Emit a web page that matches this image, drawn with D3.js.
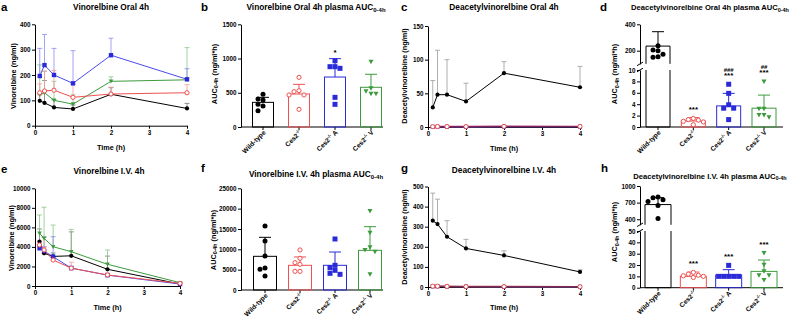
<!DOCTYPE html>
<html><head><meta charset="utf-8">
<script src="https://cdn.jsdelivr.net/npm/d3@7/dist/d3.min.js"></script>
<style>
body{margin:0;background:#fff;}
svg text{font-family:"Liberation Sans",Arial,sans-serif;font-weight:bold;fill:#000;}
</style></head><body>
<svg id="chart" width="799" height="319"></svg>
<script>
// ---------------- DATA ----------------
const timePoints = [0.125, 0.25, 0.5, 1, 2, 4];
const timeTicks = [0, 1, 2, 3, 4];
const groupLabels = ["Wild-type", "Ces2^{-/-}", "Ces2^{-/-} A", "Ces2^{-/-} V"];

// a: Vinorelbine oral (ng/ml), mean and SD
const aWT = [98, 90, 72, 66, 124, 68];
const aWTSD = [24, 88, 30, 16, 26, 20];
const aKO = [130, 137, 140, 112, 125, 130];
const aKOSD = [35, 78, 78, 53, 27, 32];
const aA = [196, 239, 200, 167, 278, 183];
const aASD = [109, 121, 105, 129, 67, 42];
const aV = [122, 130, 100, 85, 175, 181];
const aVSD = [118, 85, 75, 37, 18, 127];

// c: Deacetylvinorelbine oral
const cWT = [29, 48, 48, 38, 80, 59];
const cWTSD = [40, 66, 52, 27, 17, 31];
const cKO = [0.5, 0.6, 0.6, 0.5, 0.9, 0.8];
const cA = [0.3, 0.4, 0.4, 0.3, 0.5, 0.5];
const cV = [0.4, 0.5, 0.5, 0.4, 0.6, 0.6];

// e: Vinorelbine I.V.
const eWT = [4540, 3350, 3030, 3090, 1710, 205];
const eWTSD = [1300, 1650, 350, 2450, 1350, 80];
const eKO = [4200, 3690, 2660, 1830, 1130, 270];
const eKOSD = [400, 250, 300, 600, 200, 80];
const eA = [3860, 3580, 3000, 1830, 1110, 200];
const eASD = [350, 450, 2050, 200, 150, 60];
const eV = [5390, 4880, 4020, 3510, 2220, 340];
const eVSD = [1880, 3180, 2220, 2290, 1460, 80];

// g: Deacetylvinorelbine I.V.
const gWT = [330, 313, 250, 192, 157, 75];
const gWTSD = [137, 124, 80, 45, 23, 10];
const gKO = [4, 4, 3, 2, 2, 1];
const gA = [3, 3, 2, 2, 1, 1];
const gV = [3, 3, 2, 2, 1, 1];

// b: Vinorelbine oral AUC0-4h
const bMeans = [360, 482, 730, 580];
const bSD = [73, 141, 268, 190];
const bPoints = [
  [477, 409, 394, 331, 306, 238],
  [725, 530, 516, 468, 468, 258],
  [968, 881, 881, 857, 433, 331],
  [954, 565, 521, 487, 487]
];
const bStars = ["", "", "*", ""];

// d: Deacetylvinorelbine oral AUC0-4h
const dMeans = [235, 1.05, 3.7, 3.3];
const dSD = [109, 0.6, 2.2, 2.3];
const dPoints = [
  [238, 205, 200, 173, 155, 150],
  [0.4, 0.9, 1.0, 1.2, 1.3, 1.5],
  [7.5, 5.9, 3.9, 3.3, 3.3, 1.3],
  [8.0, 3.2, 3.2, 2.1, 1.7, 2.1]
];
const dStars = ["", "***", "***", "***"];
const dHashes = ["", "", "###", "##"];

// f: Vinorelbine I.V. AUC0-4h
const fMeans = [8280, 6070, 6070, 9750];
const fSD = [4670, 2050, 3270, 5820];
const fPoints = [
  [15740, 12050, 8360, 5410, 5080, 3440],
  [9840, 7790, 6720, 6310, 4590, 4590],
  [12540, 6070, 5490, 4840, 4100, 3850],
  [19430, 14100, 10490, 9840, 9430, 3850]
];
const fStars = ["", "", "", ""];

// h: Deacetylvinorelbine I.V. AUC0-4h
const hMeans = [665, 10, 11.2, 14.4];
const hSD = [125, 3.8, 4.7, 10];
const hPoints = [
  [800, 790, 750, 720, 650, 415],
  [9, 10, 10.5, 11, 12, 13.5],
  [19.7, 10, 10, 10, 10, 10],
  [30.6, 20.3, 14.4, 10.9, 10.9, 6.8]
];
const hStars = ["", "***", "***", "***"];

// ---------------- STYLE ----------------
const colWT = "#000000", colKO = "#f05050", colA = "#2a2ad8", colV = "#3d9a3d";
const groupColors = [colWT, colKO, colA, colV];
const groupMarkers = ["circle", "open", "square", "tri"];
const TICK_FS = 6.3, LABEL_FS = 7.3, TITLE_FS = 8.3;
const svg = d3.select("#chart");

function rich(sel, str, fs) {
  const parts = str.split(/(\^\{[^}]*\}|_\{[^}]*\})/).filter(p => p.length);
  let cur = 0;
  parts.forEach(p => {
    let target = 0, txt = p, size = fs;
    if (p.startsWith("^{")) { target = -fs * 0.4; txt = p.slice(2, -1); size = fs * 0.7; }
    else if (p.startsWith("_{")) { target = fs * 0.25; txt = p.slice(2, -1); size = fs * 0.72; }
    sel.append("tspan").attr("dy", target - cur).attr("font-size", size).text(txt);
    cur = target;
  });
  return sel;
}

function marker(g, type, x, y, color, s) {
  if (type === "circle") g.append("circle").attr("cx", x).attr("cy", y).attr("r", s / 2).attr("fill", color);
  else if (type === "open") g.append("circle").attr("cx", x).attr("cy", y).attr("r", s / 2 - 0.4).attr("fill", "#fff").attr("stroke", color).attr("stroke-width", 1);
  else if (type === "square") g.append("rect").attr("x", x - s / 2).attr("y", y - s / 2).attr("width", s).attr("height", s).attr("fill", color);
  else if (type === "tri") g.append("path").attr("d", `M${x - s / 2},${y - s * 0.4}L${x + s / 2},${y - s * 0.4}L${x},${y + s * 0.5}Z`).attr("fill", color);
}

function styleAxis(a, fs) {
  a.attr("font-size", fs).attr("font-family", null);
  a.selectAll("path.domain,line").attr("stroke", "#000").attr("stroke-width", 1);
}

function panelText(p) {
  svg.append("text").attr("x", p.letterX).attr("y", p.letterY).attr("font-size", 11.5).text(p.letter);
  const tfs = p.titleFs || TITLE_FS;
  rich(svg.append("text").attr("x", p.titleX).attr("y", p.titleY).attr("text-anchor", "middle").attr("font-size", tfs), p.title, tfs);
  rich(svg.append("text").attr("transform", `translate(${p.ylabelX},${p.ylabelY}) rotate(-90)`).attr("text-anchor", "middle").attr("font-size", LABEL_FS), p.ylabel, LABEL_FS);
}

function lineChart(p) {
  const g = svg.append("g");
  const x = d3.scaleLinear().domain([0, 4]).range([p.x0, p.x1]);
  const y = d3.scaleLinear().domain([0, p.yMax]).range([p.yBottom, p.yTop]);
  g.append("g").attr("transform", `translate(0,${p.yBottom})`)
    .call(d3.axisBottom(x).tickValues(timeTicks).tickSize(3).tickSizeOuter(0).tickPadding(2).tickFormat(d3.format("d")))
    .call(a => styleAxis(a, TICK_FS));
  g.append("g").attr("transform", `translate(${p.x0},0)`)
    .call(d3.axisLeft(y).tickValues(p.yTicks).tickSize(3).tickSizeOuter(0).tickPadding(1.5).tickFormat(d3.format("d")))
    .call(a => styleAxis(a, TICK_FS));
  // error bars
  p.series.forEach(s => {
    if (!s.sd) return;
    s.vals.forEach((v, i) => {
      const xx = x(timePoints[i]), y0 = y(v), y1 = y(v + s.sd[i]);
      g.append("line").attr("x1", xx).attr("x2", xx).attr("y1", y0).attr("y2", y1).attr("stroke", s.errColor).attr("stroke-width", 0.8);
      g.append("line").attr("x1", xx - 2.5).attr("x2", xx + 2.5).attr("y1", y1).attr("y2", y1).attr("stroke", s.errColor).attr("stroke-width", 0.8);
    });
  });
  p.series.forEach(s => {
    g.append("path").datum(s.vals)
      .attr("d", d3.line().x((d, i) => x(timePoints[i])).y(d => y(d)))
      .attr("fill", "none").attr("stroke", s.lineColor || s.color).attr("stroke-width", s.lw || 1);
  });
  p.series.forEach(s => {
    s.vals.forEach((v, i) => marker(g, s.marker, x(timePoints[i]), y(v), s.color, s.size));
  });
  svg.append("text").attr("x", (p.x0 + p.x1) / 2).attr("y", p.xlabelY).attr("text-anchor", "middle").attr("font-size", LABEL_FS).text("Time (h)");
  panelText(p);
}

function swarm(ys, d) {
  const order = ys.map((v, i) => i).sort((a, b) => ys[a] - ys[b]);
  const placed = [], xs = [];
  order.forEach(i => {
    const cands = [0, -d, d, -2 * d, 2 * d, -3 * d, 3 * d];
    for (const c of cands) {
      if (placed.every(q => Math.hypot(q.x - c, q.y - ys[i]) >= d * 0.95)) {
        xs[i] = c; placed.push({ x: c, y: ys[i] }); return;
      }
    }
    xs[i] = 0;
  });
  return xs;
}

function barChart(p) {
  const g = svg.append("g");
  const cx = d3.scalePoint().domain(d3.range(groupLabels.length)).range([p.c0, p.c1]);
  let yMap, axes = [];
  if (p.broken) {
    const yLow = d3.scaleLinear().domain([0, p.lowMax]).range([p.yBottom, p.lowTop]);
    const yUp = d3.scaleLinear().domain([p.upLo, p.upHi]).range([p.upBottom, p.yTop]);
    yMap = v => v <= p.lowMax ? yLow(v) : (v < p.upLo ? p.upBottom : yUp(v));
    axes.push([yLow, p.lowTicks], [yUp, p.upTicks]);
  } else {
    const y = d3.scaleLinear().domain([0, p.yMax]).range([p.yBottom, p.yTop]);
    yMap = y;
    axes.push([y, p.yTicks]);
  }
  axes.forEach(([sc, ticks]) => {
    g.append("g").attr("transform", `translate(${p.ax},0)`)
      .call(d3.axisLeft(sc).tickValues(ticks).tickSize(3).tickSizeOuter(0).tickPadding(1.5).tickFormat(d3.format("d")))
      .call(a => styleAxis(a, TICK_FS));
  });
  if (p.broken) {
    [p.upBottom, p.lowTop].forEach(yy => {
      g.append("line").attr("x1", p.ax - 3).attr("x2", p.ax + 3).attr("y1", yy + 1.8).attr("y2", yy - 1.8).attr("stroke", "#000").attr("stroke-width", 1);
    });
  }
  // x axis
  g.append("line").attr("x1", p.ax).attr("x2", p.xEnd).attr("y1", p.yBottom).attr("y2", p.yBottom).attr("stroke", "#000");
  groupLabels.forEach((lab, i) => {
    const c = cx(i);
    g.append("line").attr("x1", c).attr("x2", c).attr("y1", p.yBottom).attr("y2", p.yBottom + 3).attr("stroke", "#000");
    rich(g.append("text").attr("transform", `translate(${c + 3},${p.yBottom + 6}) rotate(-45)`).attr("text-anchor", "end").attr("font-size", 6.6), lab, 6.6);
  });
  const w = p.barW;
  p.means.forEach((m, i) => {
    const c = cx(i), col = groupColors[i];
    if (p.broken && m > p.lowMax) {
      g.append("path").attr("d", `M${c - w / 2},${p.lowTop}V${p.yBottom}H${c + w / 2}V${p.lowTop}`).attr("fill", "none").attr("stroke", col);
      g.append("path").attr("d", `M${c - w / 2},${p.upBottom}V${yMap(m)}H${c + w / 2}V${p.upBottom}`).attr("fill", "none").attr("stroke", col);
    } else {
      g.append("rect").attr("x", c - w / 2).attr("y", yMap(m)).attr("width", w).attr("height", p.yBottom - yMap(m)).attr("fill", "none").attr("stroke", col);
    }
    const yt = yMap(m + p.sd[i]);
    g.append("line").attr("x1", c).attr("x2", c).attr("y1", yMap(m)).attr("y2", yt).attr("stroke", col);
    g.append("line").attr("x1", c - 6).attr("x2", c + 6).attr("y1", yt).attr("y2", yt).attr("stroke", col);
    const ys = p.points[i].map(v => yMap(v));
    const xs = swarm(ys, 5);
    ys.forEach((yy, k) => marker(g, groupMarkers[i], c + xs[k], yy, col, 5));
    const top = Math.min(yt, d3.min(ys) - 2.5);
    if (p.stars && p.stars[i]) {
      g.append("text").attr("x", c).attr("y", top - 8 + 4.5).attr("text-anchor", "middle").attr("font-size", 8).text(p.stars[i]);
    }
    if (p.hashes && p.hashes[i]) {
      g.append("text").attr("x", c).attr("y", top - 8 - 2).attr("text-anchor", "middle").attr("font-size", 6).text(p.hashes[i]);
    }
  });
  panelText(p);
}

// ---------------- PANELS ----------------
function seriesSet(wt, wtSD, ko, koSD, a, aSD, v, vSD) {
  return [
    { vals: wt, sd: wtSD, color: colWT, errColor: "#777", marker: "circle", size: 4.2 },
    { vals: v, sd: vSD, color: colV, errColor: "#8cc48c", marker: "tri", size: 4.5 },
    { vals: a, sd: aSD, color: colA, lineColor: "#4a4af0", errColor: "#8c8cf0", marker: "square", size: 4.4 },
    { vals: ko, sd: koSD, color: colKO, errColor: "#f59a9a", marker: "open", size: 5 }
  ];
}

lineChart({
  x0: 35, x1: 187, yTop: 24.3, yBottom: 125.7, yMax: 400, yTicks: [0, 100, 200, 300, 400],
  series: seriesSet(aWT, aWTSD, aKO, aKOSD, aA, aASD, aV, aVSD),
  title: "Vinorelbine Oral 4h", titleX: 111, titleY: 9.5, xlabelY: 149.5,
  ylabel: "Vinorelbine (ng/ml)", ylabelX: 15.5, ylabelY: 76, letter: "a", letterX: 1, letterY: 11
});
lineChart({
  x0: 428, x1: 580, yTop: 26, yBottom: 127, yMax: 150, yTicks: [0, 50, 100, 150],
  series: [
    { vals: cWT, sd: cWTSD, color: colWT, errColor: "#9a9a9a", marker: "circle", size: 4.2 },
    { vals: cV, color: colV, marker: "tri", size: 4, lw: 1.4 },
    { vals: cA, color: colA, marker: "square", size: 4, lw: 1.4 },
    { vals: cKO, color: colKO, lineColor: "rgba(150,30,80,0.85)", marker: "open", size: 5, lw: 1.6 }
  ],
  title: "Deacetylvinorelbine Oral 4h", titleX: 504, titleY: 9.5, xlabelY: 150.5,
  ylabel: "Deacetylvinorelbine (ng/ml)", ylabelX: 407, ylabelY: 76, letter: "c", letterX: 401, letterY: 11
});
lineChart({
  x0: 35, x1: 180, yTop: 188.3, yBottom: 286, yMax: 10000, yTicks: [0, 2000, 4000, 6000, 8000, 10000],
  series: seriesSet(eWT, eWTSD, eKO, eKOSD, eA, eASD, eV, eVSD),
  title: "Vinorelbine I.V. 4h", titleX: 109, titleY: 174, xlabelY: 309.5,
  ylabel: "Vinorelbine (ng/ml)", ylabelX: 13.5, ylabelY: 238, letter: "e", letterX: 1, letterY: 173
});
lineChart({
  x0: 428, x1: 580, yTop: 186.5, yBottom: 287, yMax: 500, yTicks: [0, 100, 200, 300, 400, 500],
  series: [
    { vals: gWT, sd: gWTSD, color: colWT, errColor: "#9a9a9a", marker: "circle", size: 4.2 },
    { vals: gV, color: colV, marker: "tri", size: 4, lw: 1.4 },
    { vals: gA, color: colA, marker: "square", size: 4, lw: 1.4 },
    { vals: gKO, color: colKO, lineColor: "rgba(150,40,60,0.85)", marker: "open", size: 5, lw: 1.6 }
  ],
  title: "Deacetylvinorelbine I.V. 4h", titleX: 504, titleY: 172.5, xlabelY: 310,
  ylabel: "Deacetylvinorelbine (ng/ml)", ylabelX: 407, ylabelY: 237, letter: "g", letterX: 401, letterY: 172
});

barChart({
  ax: 241, xEnd: 383, c0: 263, c1: 371, barW: 21, yTop: 24.3, yBottom: 127, yMax: 1500, yTicks: [0, 500, 1000, 1500],
  means: bMeans, sd: bSD, points: bPoints, stars: bStars,
  title: "Vinorelbine Oral 4h plasma AUC_{0-4h}", titleX: 316, titleY: 10,
  ylabel: "AUC_{0-4h} (ng/ml*h)", ylabelX: 216.5, ylabelY: 74, letter: "b", letterX: 201, letterY: 11
});
barChart({
  ax: 241, xEnd: 383, c0: 265, c1: 370, barW: 23, yTop: 188.3, yBottom: 290, yMax: 25000, yTicks: [0, 5000, 10000, 15000, 20000, 25000],
  means: fMeans, sd: fSD, points: fPoints, stars: fStars,
  title: "Vinorelbine I.V. 4h plasma AUC_{0-4h}", titleX: 316, titleY: 177,
  ylabel: "AUC_{0-4h} (ng/ml*h)", ylabelX: 215.5, ylabelY: 240, letter: "f", letterX: 201, letterY: 172
});
barChart({
  ax: 640, xEnd: 783, c0: 658, c1: 764, barW: 24, yTop: 24.3, yBottom: 127,
  broken: true, lowMax: 10, lowTop: 70, upLo: 100, upHi: 400, upBottom: 63.9,
  lowTicks: [0, 2, 4, 6, 8, 10], upTicks: [200, 400],
  means: dMeans, sd: dSD, points: dPoints, stars: dStars, hashes: dHashes,
  title: "Deacetylvinorelbine Oral 4h plasma AUC_{0-4h}", titleX: 710, titleY: 10, titleFs: 7.6,
  ylabel: "AUC_{0-4h} (ng/ml*h)", ylabelX: 617, ylabelY: 74, letter: "d", letterX: 600, letterY: 11
});
barChart({
  ax: 640, xEnd: 783, c0: 658, c1: 764, barW: 26, yTop: 186, yBottom: 287.7,
  broken: true, lowMax: 50, lowTop: 231, upLo: 300, upHi: 1000, upBottom: 224.8,
  lowTicks: [0, 10, 20, 30, 40, 50], upTicks: [400, 700, 1000],
  means: hMeans, sd: hSD, points: hPoints, stars: hStars,
  title: "Deacetylvinorelbine I.V. 4h plasma AUC_{0-4h}", titleX: 710, titleY: 178.5, titleFs: 7.6,
  ylabel: "AUC_{0-4h} (ng/ml*h)", ylabelX: 617, ylabelY: 232, letter: "h", letterX: 601, letterY: 172
});
</script>
</body></html>
